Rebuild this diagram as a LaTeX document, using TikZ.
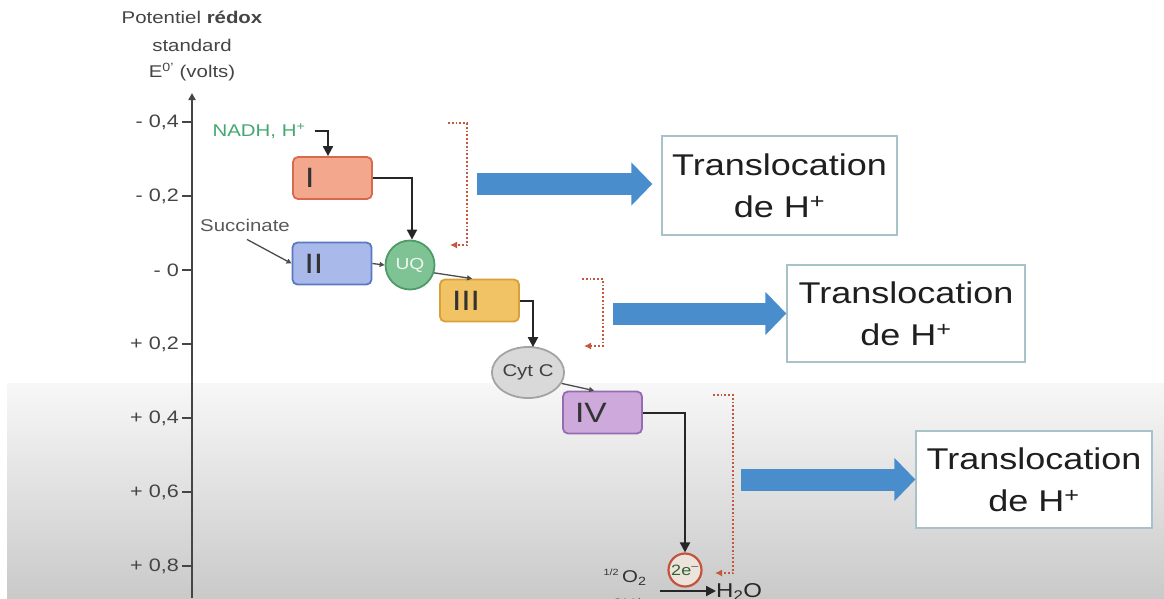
\documentclass[tikz,border=0pt]{standalone}
\usepackage{fontspec}
\setmainfont{Liberation Sans}[FakeStretch=1.2]
\usetikzlibrary{arrows.meta,shapes.geometric,calc}
\definecolor{axisgray}{HTML}{454545}
\definecolor{fillI}{HTML}{F3A88E}
\definecolor{lineI}{HTML}{D8694F}
\definecolor{fillII}{HTML}{A9BAEA}
\definecolor{lineII}{HTML}{5A78C4}
\definecolor{fillUQ}{HTML}{7FC394}
\definecolor{lineUQ}{HTML}{4D9C68}
\definecolor{fillIII}{HTML}{F2C365}
\definecolor{lineIII}{HTML}{D8A038}
\definecolor{fillCyt}{HTML}{D9D9D9}
\definecolor{lineCyt}{HTML}{A3A3A3}
\definecolor{fillIV}{HTML}{CDA9DC}
\definecolor{lineIV}{HTML}{966CB0}
\definecolor{ered}{HTML}{C4533C}
\definecolor{efill}{HTML}{ECE4DC}
\definecolor{bracketred}{HTML}{C4583F}
\definecolor{arrowblue}{HTML}{4A8DCC}
\definecolor{boxline}{HTML}{A8C2CA}
\definecolor{nadhgreen}{HTML}{45A872}
\begin{document}
\begin{tikzpicture}[x=1pt,y=-1pt,
 cplx/.style={draw, rounded corners=5pt, line width=1.8pt, minimum height=42pt, text width=55pt, inner xsep=12pt, inner ysep=0pt, align=left, font=\fontsize{28}{30}\selectfont, text=black!80},
 conn/.style={draw=black!85, line width=2pt, -{Triangle[length=10pt,width=10pt]}},
 thinc/.style={draw=black!70, line width=1.3pt, -{Triangle[length=5pt,width=5pt]}},
 bracketline/.style={draw=bracketred, dotted, line width=1.8pt, -{Latex[length=7pt,width=7pt]}},
 bluearr/.style={draw=arrowblue, line width=22pt, -{Triangle[length=21pt,width=42pt]}},
 tbox/.style={draw=boxline, line width=1.3pt, fill=white, align=center, font=\fontsize{30}{42}\selectfont, text=black!88, inner sep=0pt},
 axlab/.style={font=\fontsize{18}{20}\selectfont, text=axisgray, anchor=east, inner sep=0pt},
 toplab/.style={font=\fontsize{17}{20}\selectfont, text=axisgray, inner sep=0pt},
 tick/.style={draw=axisgray, line width=1.8pt}
]
\useasboundingbox (0,0) rectangle (1164,598);
\clip (0,0) rectangle (1164,598);
\fill[white] (0,0) rectangle (1164,598);
\shade[top color=black!3, bottom color=black!21] (7,383) rectangle (1164,598);

% axis title
\node[toplab] (t1) at (192,17) {Potentiel \textbf{rédox}};
\node[toplab] (t2) at (192,45) {standard};
\node[toplab] (t3) at (192,72) {E\textsuperscript{0'} (volts)};

% axis
\coordinate (axbot) at (192,598);
\coordinate (axtop) at (192,93);
\draw[draw=axisgray, line width=1.8pt, -{Triangle[length=7pt,width=7pt]}] (axbot) -- (axtop);
\foreach \yy in {122,196,270,344,418,492,566} {\draw[tick] (182,\yy) -- (192,\yy);}
\node[axlab] (a1) at (179,122) {-\hspace{6pt}0,4};
\node[axlab] (a2) at (179,196) {-\hspace{6pt}0,2};
\node[axlab] (a3) at (179,270) {-\hspace{6pt}0};
\node[axlab] (a4) at (179,344) {+\hspace{6pt}0,2};
\node[axlab] (a5) at (179,418) {+\hspace{6pt}0,4};
\node[axlab] (a6) at (179,492) {+\hspace{6pt}0,6};
\node[axlab] (a7) at (179,566) {+\hspace{6pt}0,8};

% complexes
\node[cplx, fill=fillI, draw=lineI] (I) at (332.5,178) {I};
\node[cplx, fill=fillII, draw=lineII] (II) at (332,263.5) {II};
\node[circle, draw=lineUQ, fill=fillUQ, line width=1.8pt, minimum size=49pt, inner sep=0pt, text=white!85!fillUQ, font=\fontsize{16}{18}\selectfont] (UQ) at (410,265) {UQ};
\node[cplx, fill=fillIII, draw=lineIII] (III) at (479.5,300.5) {III};
\node[ellipse, draw=lineCyt, fill=fillCyt, line width=1.8pt, minimum width=64pt, minimum height=51pt, inner sep=0pt, text=black!75, font=\fontsize{17}{19}\selectfont] (Cyt) at (528,372.5) {Cyt C};
\node[cplx, fill=fillIV, draw=lineIV] (IV) at (602.5,412.5) {IV};
\node[circle, draw=ered, fill=efill, line width=2.2pt, minimum size=33pt, inner sep=0pt, text=black!70!green!60!gray, font=\fontsize{15}{17}\selectfont] (e2) at (685,570) {2e\textsuperscript{–}};

% labels
\node[text=nadhgreen, font=\fontsize{17}{19}\selectfont, inner sep=0pt] (nadh) at (259,131) {NADH, H\textsuperscript{+}};
\node[text=black!65, font=\fontsize{17}{19}\selectfont, inner sep=0pt] (succ) at (245,225) {Succinate};

% connectors
\draw[conn] ($(nadh.east)+(9,0)$) -| ($(I.north)+(-4.5,0)$);
\draw[conn] (I.east) -| ($(UQ.north)+(2,0)$);
\draw[thinc] ($(succ.south)+(2,8)$) -- (II.west);
\draw[thinc] (II.east) -- (UQ.west);
\draw[thinc] (UQ.-18) -- ($(III.north west)+(33,0)$);
\draw[conn] (III.east) -| ($(Cyt.north)+(5,1)$);
\draw[thinc] (Cyt.-18) -- ($(IV.north west)+(32,0)$);
\draw[conn] (IV.east) -| (e2.north);

% bottom reaction
\node[text=black!80, font=\fontsize{9}{10}\selectfont, inner sep=0pt] (half) at (611,572) {1/2};
\node[text=black!80, font=\fontsize{17}{19}\selectfont, inner sep=0pt, anchor=west] (o2) at (622,578) {O\textsubscript{2}};
\node[text=black!80, font=\fontsize{15}{17}\selectfont, inner sep=0pt] (h2p) at (628,604) {2H\textsuperscript{+}};
\node[text=black!85, font=\fontsize{20}{22}\selectfont, inner sep=0pt, anchor=west] (h2o) at (716,592) {H\textsubscript{2}O};
\coordinate (rxa) at (660,591);
\draw[conn] (rxa) -- (rxa -| h2o.west);

% dotted brackets
\coordinate (b1a) at (448,123); \coordinate (b1b) at (467,123); \coordinate (b1c) at (467,245); \coordinate (b1d) at (450,245);
\draw[bracketline] (b1a) -- (b1b) -- (b1c) -- (b1d);
\coordinate (b2a) at (582,279); \coordinate (b2b) at (603,279); \coordinate (b2c) at (603,346); \coordinate (b2d) at (584,346);
\draw[bracketline] (b2a) -- (b2b) -- (b2c) -- (b2d);
\coordinate (b3a) at (713,395); \coordinate (b3b) at (733,395); \coordinate (b3c) at (733,573); \coordinate (b3d) at (715,573);
\draw[bracketline] (b3a) -- (b3b) -- (b3c) -- (b3d);

% translocation boxes
\node[tbox, minimum width=235pt, minimum height=99pt] (T1) at (779.5,185.5) {Translocation\\de H\textsuperscript{+}};
\node[tbox, minimum width=238pt, minimum height=97pt] (T2) at (906,313.5) {Translocation\\de H\textsuperscript{+}};
\node[tbox, minimum width=236pt, minimum height=97pt] (T3) at (1034,479.5) {Translocation\\de H\textsuperscript{+}};

% blue arrows
\coordinate (ba1) at (477,184);
\coordinate (ba2) at (613,313.5);
\coordinate (ba3) at (741,479.5);
\draw[bluearr] (ba1) -- ($(ba1 -| T1.west)+(-9,0)$);
\draw[bluearr] (ba2) -- (ba2 -| T2.west);
\draw[bluearr] (ba3) -- (ba3 -| T3.west);
\end{tikzpicture}
\end{document}
